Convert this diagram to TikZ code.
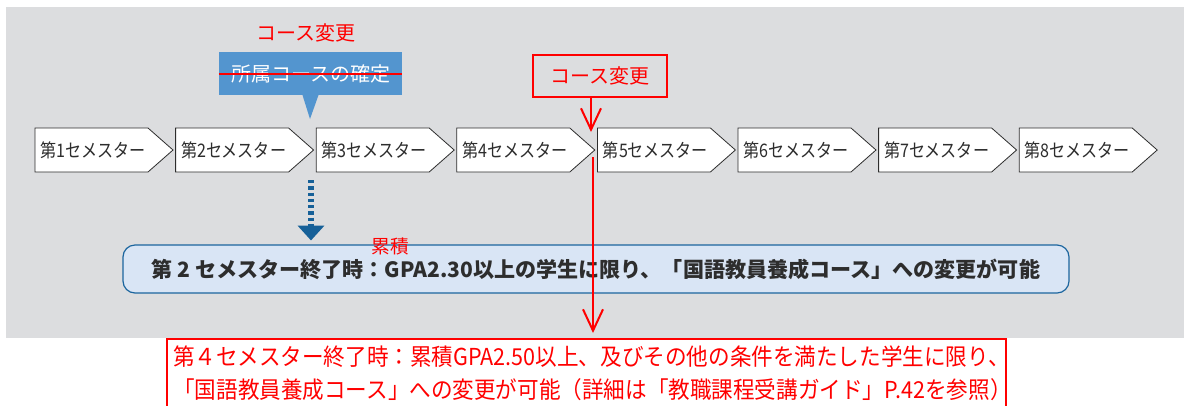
\documentclass[tikz,border=0pt]{standalone}
\usepackage{fontspec}
\setmainfont{Noto Sans CJK JP}
\newfontfamily\narrowjp[FakeStretch=0.86]{Noto Sans CJK JP}
\newfontfamily\notejp[FakeStretch=0.925]{Noto Sans CJK JP}
\usepackage{xcolor}
\usepackage{tikz}
\usetikzlibrary{arrows.meta}
\definecolor{bggray}{RGB}{220,221,223}
\definecolor{callblue}{RGB}{83,149,207}
\definecolor{rulefill}{RGB}{217,229,245}
\definecolor{ruleline}{RGB}{27,101,158}
\definecolor{darrow}{RGB}{22,96,152}
\definecolor{txtgray}{RGB}{45,45,45}
\definecolor{chgred}{RGB}{255,0,0}
\newcommand{\drawSemester}[2]{% left: x, number
  \draw[fill=white,draw=txtgray,line width=0.6pt] (#1,128) -- (#1+113,128) -- (#1+138,150) -- (#1+113,172) -- (#1,172) -- cycle;
  \node[semlabel] (s#2) at (#1+58,150) {第#2セメスター};
}

\begin{document}
\begin{tikzpicture}[x=0.75pt,y=-0.75pt,
  semlabel/.style={text=txtgray,font=\narrowjp\fontsize{14}{16}\selectfont,inner sep=0pt},
  redtext/.style={text=chgred,font=\fontsize{15}{18}\selectfont},
  redarrow/.style={draw=chgred,line width=1.5pt,-{Straight Barb[length=16pt,width=15pt]}},
  dasharrow/.style={draw=darrow,line width=5pt,dash pattern=on 2.5pt off 2.2pt,-{Triangle[length=11pt,width=20pt,line width=0pt]}},
  rulebox/.style={fill=rulefill,draw=ruleline,line width=0.9pt,rounded corners=9pt,minimum width=709.5pt,minimum height=36pt,text=txtgray,font=\bfseries\fontsize{15.8}{18}\selectfont},
  notetext/.style={text=chgred,font=\notejp\fontsize{17.5}{24.5}\selectfont,align=left,text width=620pt,inner xsep=4.5pt,inner ysep=5pt}]
\clip (0,0) rectangle (1184,405);
% Gray panel
\fill[bggray] (6,7) rectangle (1184,338);

% Semesters 1-8
\drawSemester{35}{1}
\drawSemester{175.6}{2}
\drawSemester{316.2}{3}
\drawSemester{456.8}{4}
\drawSemester{597.4}{5}
\drawSemester{738}{6}
\drawSemester{878.6}{7}
\drawSemester{1019.2}{8}

% Callout over semester 2 (struck out)
\node[fill=callblue,text=white,font=\fontsize{15}{18}\selectfont,minimum width=137pt,minimum height=32pt] (callout) at (310.5,73.5) {所属コースの確定};
\fill[callblue] ([xshift=-6pt]callout.south) -- ([xshift=6pt]callout.south) -- (310,119) -- cycle;
\draw[chgred,line width=1.5pt] (callout.west) -- (callout.east);
\node[redtext] (newcourse) at (306,33) {コース変更};

% Course change after semester 4
\node[redtext,draw=chgred,line width=1.5pt,minimum width=100.5pt,minimum height=31.5pt] (change) at (600,76) {コース変更};
\coordinate (gaptop) at (591,132);
\coordinate (gapbot) at (593,157);
\draw[redarrow] (change.south -| gaptop) -- (gaptop);

% Rule after semester 2
\node[rulebox] (rule) at (596,269) {第 2 セメスター終了時：GPA2.30以上の学生に限り、「国語教員養成コース」への変更が可能};
\node[text=chgred,font=\fontsize{14}{16}\selectfont] (cumul) at (390,246) {累積};
\coordinate (dashtop) at (311,180);
\draw[dasharrow,shorten >=3pt] (dashtop) -- (rule.north -| dashtop);

% New rule after semester 4
\node[notetext,anchor=north west] (note) at (167,339) {第４セメスター終了時：累積GPA2.50以上、及びその他の条件を満たした学生に限り、\\「国語教員養成コース」への変更が可能（詳細は「教職課程受講ガイド」P.42を参照）};
\draw[chgred,line width=1.5pt] ([yshift=-30pt]note.south west) -- (note.north west) -- (note.north east) -- ([yshift=-30pt]note.south east);
\draw[redarrow,shorten >=4.5pt] (gapbot) -- (note.north -| gapbot);
\end{tikzpicture}
\end{document}
